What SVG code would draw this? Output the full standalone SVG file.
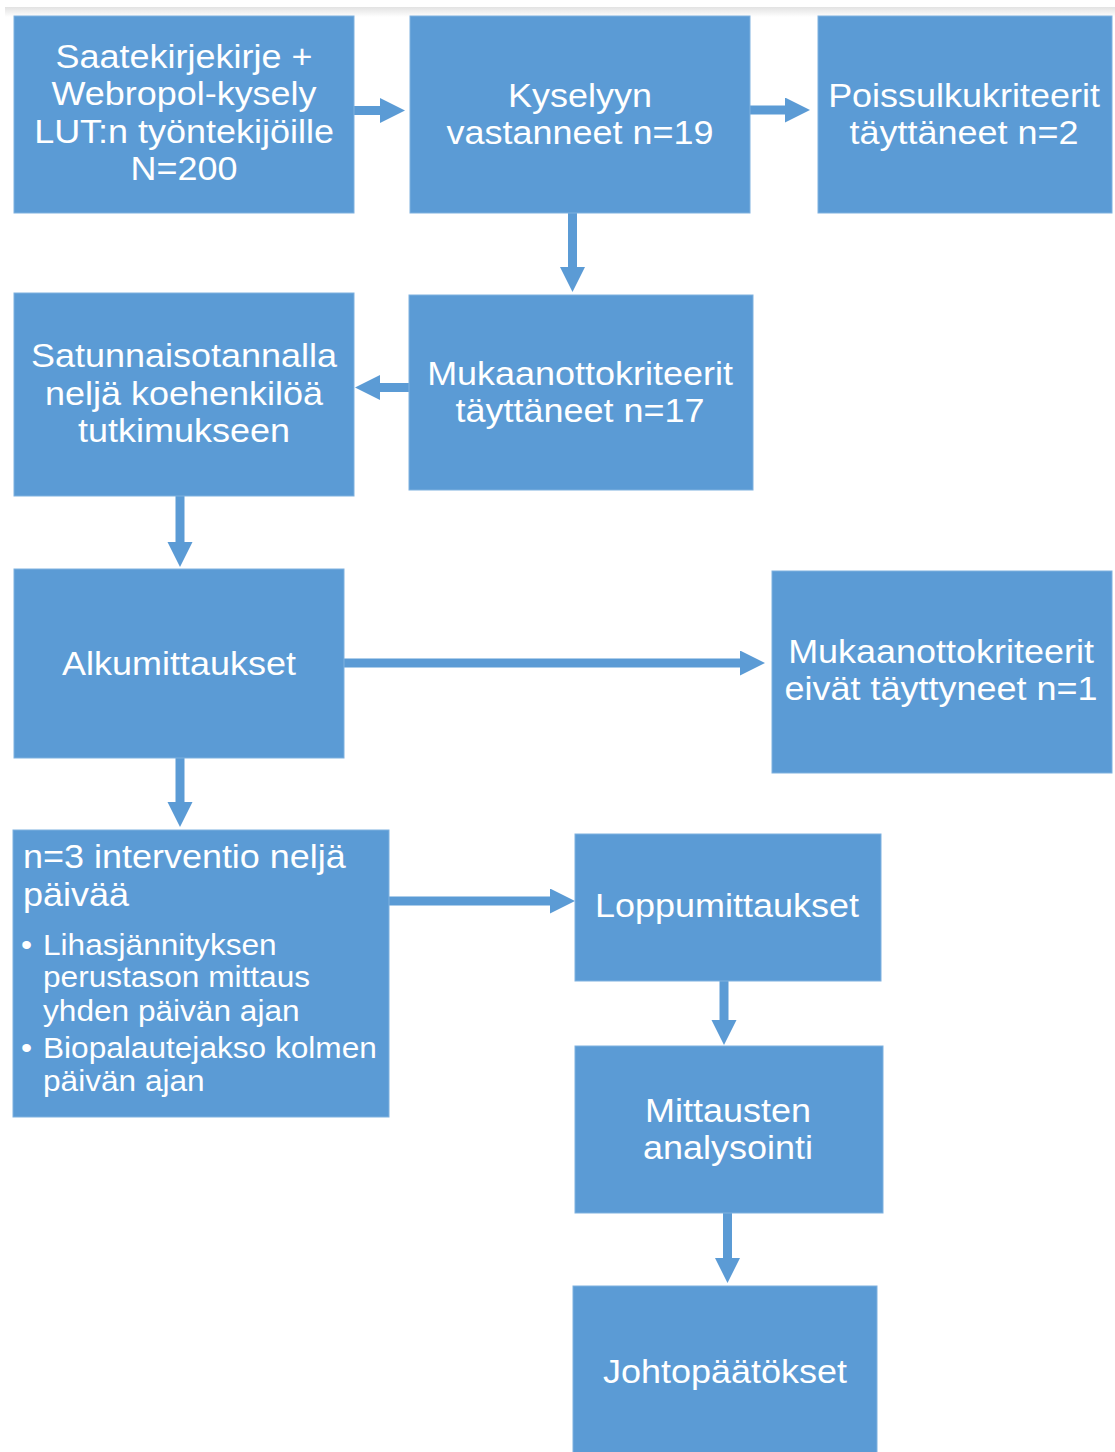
<svg xmlns="http://www.w3.org/2000/svg" width="1115" height="1452" viewBox="0 0 1115 1452">
<defs>
<linearGradient id="topband" x1="0" y1="0" x2="0" y2="1">
<stop offset="0" stop-color="#E2E2E2"/>
<stop offset="1" stop-color="#FFFFFF"/>
</linearGradient>
<marker id="ah" markerUnits="userSpaceOnUse" markerWidth="26" markerHeight="26" refX="1" refY="12.5" orient="auto" viewBox="0 0 26 26">
<path d="M0,0 L25,12.5 L0,25 Z" fill="#5B9BD5"/>
</marker>
</defs>
<style>
.box{fill:#5B9BD5;stroke:#7FB1DF;stroke-width:1}
.t{fill:#FFFFFF;font-family:"Liberation Sans",Arial,sans-serif;font-size:33px;text-anchor:middle}
.tl{fill:#FFFFFF;font-family:"Liberation Sans",Arial,sans-serif;font-size:33px}
.tb{fill:#FFFFFF;font-family:"Liberation Sans",Arial,sans-serif;font-size:29px}
.c{stroke:#5B9BD5;stroke-width:9;fill:none;marker-end:url(#ah)}
</style>
<rect width="1115" height="1452" fill="#FFFFFF"/>
<rect x="5" y="7" width="1110" height="10" fill="url(#topband)"/>

<g id="connectors">
<line class="c" x1="354" y1="110.5" x2="381" y2="110.5"/>
<line class="c" x1="750" y1="110" x2="786" y2="110"/>
<line class="c" x1="572.5" y1="213" x2="572.5" y2="268"/>
<line class="c" x1="409" y1="387.5" x2="379" y2="387.5"/>
<line class="c" x1="180" y1="496" x2="180" y2="543"/>
<line class="c" x1="344" y1="663" x2="741" y2="663"/>
<line class="c" x1="180" y1="758" x2="180" y2="803"/>
<line class="c" x1="389" y1="901" x2="551" y2="901"/>
<line class="c" x1="724" y1="981" x2="724" y2="1021"/>
<line class="c" x1="727.5" y1="1213" x2="727.5" y2="1259"/>
</g>

<g id="n1">
<rect class="box" x="14" y="16" width="340" height="197"/>
<text class="t" transform="translate(184,0) scale(1.09,1)" y="68">Saatekirjekirje +</text>
<text class="t" transform="translate(184,0) scale(1.09,1)" y="105.5">Webropol-kysely</text>
<text class="t" transform="translate(184,0) scale(1.09,1)" y="143">LUT:n työntekijöille</text>
<text class="t" transform="translate(184,0) scale(1.09,1)" y="180.5">N=200</text>
</g>

<g id="n2">
<rect class="box" x="410" y="16" width="340" height="197"/>
<text class="t" transform="translate(580,0) scale(1.09,1)" y="107">Kyselyyn</text>
<text class="t" transform="translate(580,0) scale(1.09,1)" y="144">vastanneet n=19</text>
</g>

<g id="n3">
<rect class="box" x="818" y="16" width="294" height="197"/>
<text class="t" transform="translate(964,0) scale(1.09,1)" y="107">Poissulkukriteerit</text>
<text class="t" transform="translate(964,0) scale(1.09,1)" y="144">täyttäneet n=2</text>
</g>

<g id="n4">
<rect class="box" x="14" y="293" width="340" height="203"/>
<text class="t" transform="translate(184,0) scale(1.09,1)" y="367">Satunnaisotannalla</text>
<text class="t" transform="translate(184,0) scale(1.09,1)" y="405">neljä koehenkilöä</text>
<text class="t" transform="translate(184,0) scale(1.09,1)" y="442">tutkimukseen</text>
</g>

<g id="n5">
<rect class="box" x="409" y="295" width="344" height="195"/>
<text class="t" transform="translate(580,0) scale(1.09,1)" y="385">Mukaanottokriteerit</text>
<text class="t" transform="translate(580,0) scale(1.09,1)" y="422">täyttäneet n=17</text>
</g>

<g id="n6">
<rect class="box" x="14" y="569" width="330" height="189"/>
<text class="t" transform="translate(179,0) scale(1.09,1)" y="675">Alkumittaukset</text>
</g>

<g id="n7">
<rect class="box" x="772" y="571" width="340" height="202"/>
<text class="t" transform="translate(941,0) scale(1.09,1)" y="663">Mukaanottokriteerit</text>
<text class="t" transform="translate(941,0) scale(1.09,1)" y="700">eivät täyttyneet n=1</text>
</g>

<g id="n8">
<rect class="box" x="13" y="830" width="376" height="287"/>
<text class="tl" transform="translate(23,0) scale(1.09,1)" y="868">n=3 interventio neljä</text>
<text class="tl" transform="translate(23,0) scale(1.09,1)" y="906">päivää</text>
<text class="tb" transform="translate(21,0) scale(1.09,1)" y="955">•</text>
<text class="tb" transform="translate(43,0) scale(1.09,1)" y="955">Lihasjännityksen</text>
<text class="tb" transform="translate(43,0) scale(1.09,1)" y="987">perustason mittaus</text>
<text class="tb" transform="translate(43,0) scale(1.09,1)" y="1021">yhden päivän ajan</text>
<text class="tb" transform="translate(21,0) scale(1.09,1)" y="1058">•</text>
<text class="tb" transform="translate(43,0) scale(1.09,1)" y="1058">Biopalautejakso kolmen</text>
<text class="tb" transform="translate(43,0) scale(1.09,1)" y="1091">päivän ajan</text>
</g>

<g id="n9">
<rect class="box" x="575" y="834" width="306" height="147"/>
<text class="t" transform="translate(727,0) scale(1.09,1)" y="917">Loppumittaukset</text>
</g>

<g id="n10">
<rect class="box" x="575" y="1046" width="308" height="167"/>
<text class="t" transform="translate(728,0) scale(1.09,1)" y="1122">Mittausten</text>
<text class="t" transform="translate(728,0) scale(1.09,1)" y="1159">analysointi</text>
</g>

<g id="n11">
<rect class="box" x="573" y="1286" width="304" height="170"/>
<text class="t" transform="translate(725,0) scale(1.09,1)" y="1383">Johtopäätökset</text>
</g>
</svg>
